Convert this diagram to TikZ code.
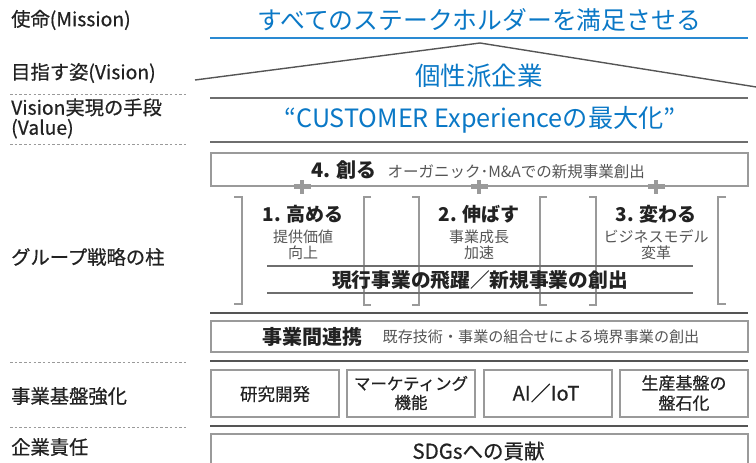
\documentclass[tikz,border=0pt]{standalone}
\usepackage{fontspec}
\setmainfont{Noto Sans CJK JP}
\newfontfamily\medfont{Noto Sans CJK JP}[FakeBold=0.6]
\definecolor{tblue}{HTML}{0A78C6}
\definecolor{lblue}{HTML}{2A8AD2}
\definecolor{ink}{HTML}{222222}
\definecolor{subink}{HTML}{555555}
\definecolor{boxgray}{HTML}{9A9A9A}
\definecolor{linegray}{HTML}{6E6E6E}
\definecolor{darkline}{HTML}{555555}
\newcommand{\fs}[1]{\fontsize{#1}{#1}\selectfont}
\newcommand{\fsb}[2]{\fontsize{#1}{#2}\selectfont}
\tikzset{
  lbl/.style={anchor=west, inner sep=0pt, text=ink, font=\medfont\fs{19.3}, align=left},
  dotline/.style={draw=boxgray, line width=0.9pt, dash pattern=on 2.5pt off 2.2pt},
  bluetxt/.style={inner sep=0pt, text=tblue},
  sepline/.style={draw=linegray, line width=1.6pt},
  thickline/.style={draw=darkline, line width=2.6pt},
  frame/.style={draw=boxgray, line width=1.3pt},
  bracket/.style={draw=boxgray, line width=1.5pt},
  plusarm/.style={draw=boxgray, line width=4.2pt},
  ptitle/.style={inner sep=0pt, text=ink, font=\bfseries\fs{19}},
  psub/.style={inner sep=0pt, text=subink, font=\fsb{15}{16}, align=center},
  btxt/.style={inner sep=0pt, text=ink, font=\medfont\fs{17}, align=center}
}
\begin{document}
\begin{tikzpicture}[x=1pt,y=-1pt]
\useasboundingbox (0,0) rectangle (756,463);
% left labels
\node[lbl] (lmission) at (11,20) {使命(Mission)};
\node[lbl] (lvision) at (11,73) {目指す姿(Vision)};
\coordinate (d1a) at (10,94); \coordinate (d1b) at (186,94);
\draw[dotline] (d1a) -- (d1b);
\node[lbl, font=\medfont\fsb{19.3}{20}] (lvalue) at (11,118.5) {Vision実現の手段\\(Value)};
\coordinate (d2a) at (10,144); \coordinate (d2b) at (186,144);
\draw[dotline] (d2a) -- (d2b);
\node[lbl] (lpillar) at (11,257) {グループ戦略の柱};
\coordinate (d3a) at (10,362); \coordinate (d3b) at (186,362);
\draw[dotline] (d3a) -- (d3b);
\node[lbl] (lbase) at (11,396) {事業基盤強化};
\coordinate (d4a) at (10,427); \coordinate (d4b) at (186,427);
\draw[dotline] (d4a) -- (d4b);
\node[lbl] (lresp) at (11,447) {企業責任};
% mission
\node[bluetxt, font=\fs{24.8}] (mission) at (479,20) {すべてのステークホルダーを満足させる};
\coordinate (bl1) at (210,38); \coordinate (bl2) at (748,38);
\draw[draw=lblue, line width=1.6pt] (bl1) -- (bl2);
% roof
\coordinate (r1) at (195,80); \coordinate (r2) at (480,43); \coordinate (r3) at (760,87.6);
\draw[draw=darkline, line width=1.4pt] (r1) -- (r2) -- (r3);
\node[bluetxt, font=\fs{25.5}] (vision) at (479,76) {個性派企業};
\coordinate (s1a) at (210,98); \coordinate (s1b) at (748,98);
\draw[sepline] (s1a) -- (s1b);
\node[bluetxt, font=\fs{25.2}] (value) at (480,120) {“CUSTOMER Experienceの最大化”};
\coordinate (s2a) at (210,142); \coordinate (s2b) at (748,142);
\draw[sepline] (s2a) -- (s2b);
% box 4
\draw[frame] (211,153) rectangle (748,186);
\node[inner sep=0pt, text=ink] (create) at (478,170) {{\bfseries\fs{20}4. 創る}\hspace{11pt}{\color{subink}\fs{15.5}オーガニック･M\&Aでの新規事業創出}};
% plus signs
\foreach \px/\nm in {302/pa,479/pb,656/pc}{
  \coordinate (\nm) at (\px,186.5);
  \draw[plusarm] ([xshift=-8.5pt]\nm) -- ([xshift=8.5pt]\nm);
  \draw[plusarm] ([yshift=-7pt]\nm) -- ([yshift=7pt]\nm);
}
% brackets
\draw[bracket] (234,197) -- (242,197) -- (242,304) -- (234,304);
\draw[bracket] (371,197) -- (364,197) -- (364,305) -- (371,305);
\draw[bracket] (412,197) -- (419,197) -- (419,305) -- (412,305);
\draw[bracket] (547,197) -- (540,197) -- (540,305) -- (547,305);
\draw[bracket] (589,197) -- (596,197) -- (596,305) -- (589,305);
\draw[bracket] (726,197) -- (718,197) -- (718,304) -- (726,304);
% pillars
\node[ptitle] (p1) at (303,214) {1. 高める};
\node[psub] (p1s) at (303,245) {提供価値\\向上};
\node[ptitle] (p2) at (479,214) {2. 伸ばす};
\node[psub] (p2s) at (479,245) {事業成長\\加速};
\node[ptitle] (p3) at (656,214) {3. 変わる};
\node[psub] (p3s) at (656,245) {ビジネスモデル\\変革};
\coordinate (h1a) at (267,266); \coordinate (h1b) at (693,266);
\coordinate (h2a) at (267,293); \coordinate (h2b) at (693,293);
\draw[draw=linegray, line width=1.2pt] (h1a) -- (h1b);
\draw[draw=linegray, line width=1.2pt] (h2a) -- (h2b);
\node[inner sep=0pt, text=ink, font=\bfseries\fs{19.7}] (leap) at (480,280) {現行事業の飛躍／新規事業の創出};
\coordinate (t1a) at (210,313); \coordinate (t1b) at (748,313);
\draw[thickline] (t1a) -- (t1b);
% synergy box
\draw[frame] (211,321) rectangle (748,352);
\node[inner sep=0pt, text=ink, font=\bfseries\fs{20}] (syn) at (312,337) {事業間連携};
\node[inner sep=0pt, text=subink, font=\fs{15.1}] (synsub) at (541,337) {既存技術・事業の組合せによる境界事業の創出};
\coordinate (t2a) at (210,361); \coordinate (t2b) at (748,361);
\draw[thickline] (t2a) -- (t2b);
% base boxes
\draw[frame] (211,370) rectangle (339,417);
\draw[frame] (347,370) rectangle (475,417);
\draw[frame] (484,370) rectangle (612,417);
\draw[frame] (620,370) rectangle (748,417);
\node[btxt, font=\medfont\fs{17.5}] (b1) at (275,394) {研究開発};
\node[btxt, font=\medfont\fsb{16.5}{19}] (b2) at (411,393) {マーケティング\\機能};
\node[btxt, font=\medfont\fs{20}] (b3) at (546,393) {AI／IoT};
\node[btxt, font=\medfont\fsb{17}{20}] (b4) at (684,393) {生産基盤の\\盤石化};
\coordinate (t3a) at (210,426); \coordinate (t3b) at (748,426);
\draw[thickline] (t3a) -- (t3b);
% SDGs box
\draw[frame] (211,434) rectangle (748,480);
\node[inner sep=0pt, text=ink, font=\medfont\fs{20.5}] (sdg) at (478.5,451) {SDGsへの貢献};
\end{tikzpicture}
\end{document}
